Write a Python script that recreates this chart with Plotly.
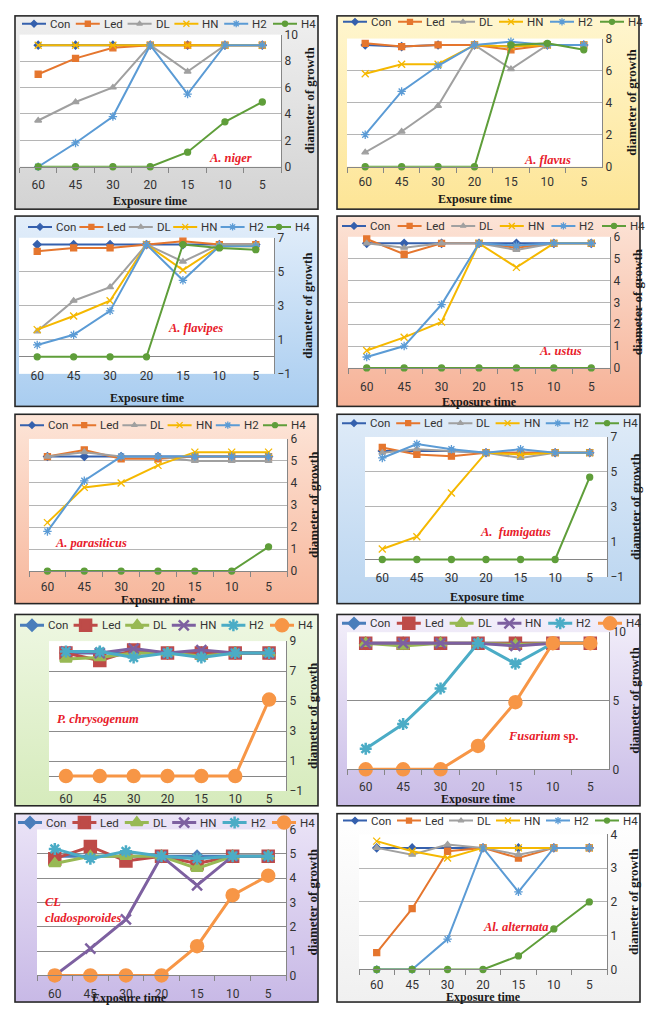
import base64
import plotly.graph_objects as go

W, H = 649, 1011

TIMES = ["60", "45", "30", "20", "15", "10", "5"]
SERIES = ["Con", "Led", "DL", "HN", "H2", "H4"]

niger = {
    "Con": [9.2, 9.2, 9.2, 9.2, 9.2, 9.2, 9.2],
    "Led": [7.0, 8.2, 9.0, 9.2, 9.2, 9.2, 9.2],
    "DL": [3.5, 4.9, 6.0, 9.2, 7.2, 9.2, 9.2],
    "HN": [9.2, 9.2, 9.2, 9.2, 9.2, 9.2, 9.2],
    "H2": [0, 1.8, 3.8, 9.2, 5.5, 9.2, 9.2],
    "H4": [0, 0, 0, 0, 1.1, 3.4, 4.9],
}
flavus = {
    "Con": [7.6, 7.5, 7.6, 7.6, 7.5, 7.6, 7.6],
    "Led": [7.7, 7.5, 7.6, 7.6, 7.3, 7.6, 7.6],
    "DL": [0.9, 2.2, 3.8, 7.6, 6.1, 7.6, 7.6],
    "HN": [5.8, 6.4, 6.4, 7.6, 7.5, 7.6, 7.6],
    "H2": [2.0, 4.7, 6.3, 7.6, 7.8, 7.6, 7.6],
    "H4": [0, 0, 0, 0, 7.6, 7.7, 7.3],
}
flavipes = {
    "Con": [6.6, 6.6, 6.6, 6.6, 6.6, 6.6, 6.6],
    "Led": [6.2, 6.4, 6.4, 6.6, 6.8, 6.6, 6.6],
    "DL": [1.5, 3.3, 4.1, 6.6, 5.6, 6.6, 6.6],
    "HN": [1.6, 2.4, 3.3, 6.6, 5.1, 6.5, 6.5],
    "H2": [0.7, 1.3, 2.7, 6.6, 4.5, 6.5, 6.5],
    "H4": [0, 0, 0, 0, 6.6, 6.4, 6.3],
}
ustus = {
    "Con": [5.7, 5.7, 5.7, 5.7, 5.7, 5.7, 5.7],
    "Led": [5.9, 5.2, 5.7, 5.7, 5.5, 5.7, 5.7],
    "DL": [5.7, 5.5, 5.7, 5.7, 5.4, 5.7, 5.7],
    "HN": [0.8, 1.4, 2.1, 5.7, 4.6, 5.7, 5.7],
    "H2": [0.5, 1.0, 2.9, 5.7, 5.6, 5.7, 5.7],
    "H4": [0, 0, 0, 0, 0, 0, 0],
}
parasiticus = {
    "Con": [5.2, 5.2, 5.2, 5.2, 5.2, 5.2, 5.2],
    "Led": [5.2, 5.5, 5.1, 5.1, 5.2, 5.2, 5.2],
    "DL": [5.2, 5.4, 5.2, 5.2, 5.0, 5.0, 5.0],
    "HN": [2.2, 3.8, 4.0, 4.8, 5.4, 5.4, 5.4],
    "H2": [1.8, 4.1, 5.2, 5.2, 5.2, 5.2, 5.2],
    "H4": [0, 0, 0, 0, 0, 0, 1.1],
}
fumigatus = {
    "Con": [6.2, 6.2, 6.2, 6.1, 6.1, 6.1, 6.1],
    "Led": [6.4, 6.0, 5.9, 6.1, 6.1, 6.1, 6.1],
    "DL": [6.1, 6.3, 6.2, 6.1, 5.8, 6.1, 6.1],
    "HN": [0.6, 1.3, 3.8, 6.1, 6.0, 6.1, 6.1],
    "H2": [5.8, 6.6, 6.3, 6.1, 6.3, 6.1, 6.1],
    "H4": [0, 0, 0, 0, 0, 0, 4.7],
}
chrysogenum = {
    "Con": [8.2, 8.2, 8.2, 8.2, 8.2, 8.2, 8.2],
    "Led": [8.2, 7.7, 8.4, 8.2, 8.2, 8.2, 8.2],
    "DL": [7.8, 7.9, 8.2, 8.2, 8.0, 8.2, 8.2],
    "HN": [8.3, 8.2, 8.5, 8.2, 8.4, 8.2, 8.2],
    "H2": [8.3, 8.3, 7.9, 8.2, 7.9, 8.2, 8.2],
    "H4": [0, 0, 0, 0, 0, 0, 5.1],
}
fusarium = {
    "Con": [9.2, 9.2, 9.2, 9.2, 9.2, 9.2, 9.2],
    "Led": [9.2, 9.2, 9.2, 9.2, 9.2, 9.2, 9.2],
    "DL": [9.2, 9.0, 9.2, 9.2, 9.1, 9.2, 9.2],
    "HN": [9.2, 9.2, 9.2, 9.2, 9.0, 9.2, 9.2],
    "H2": [1.5, 3.3, 5.9, 9.2, 7.7, 9.2, 9.2],
    "H4": [0, 0, 0, 1.7, 4.9, 9.2, 9.2],
}
cladosporoides = {
    "Con": [4.9, 4.9, 4.9, 4.9, 4.9, 4.9, 4.9],
    "Led": [4.8, 5.3, 4.7, 4.9, 4.6, 4.9, 4.9],
    "DL": [4.6, 4.9, 4.9, 4.9, 4.4, 4.9, 4.9],
    "HN": [0, 1.1, 2.3, 4.9, 3.7, 4.9, 4.9],
    "H2": [5.2, 4.8, 5.1, 4.9, 4.8, 4.9, 4.9],
    "H4": [0, 0, 0, 0, 1.2, 3.3, 4.1],
}
alternata = {
    "Con": [3.6, 3.6, 3.6, 3.6, 3.6, 3.6, 3.6],
    "Led": [0.5, 1.8, 3.5, 3.6, 3.3, 3.6, 3.6],
    "DL": [3.6, 3.4, 3.7, 3.6, 3.4, 3.6, 3.6],
    "HN": [3.8, 3.5, 3.3, 3.6, 3.6, 3.6, 3.6],
    "H2": [0, 0, 0.9, 3.6, 2.3, 3.6, 3.6],
    "H4": [0, 0, 0, 0, 0.4, 1.2, 2.0],
}

# ---------- styles ----------
STYLE_A = dict(
    colors=["#3560ad", "#e5762e", "#a0a0a0", "#f5b800", "#5b9bd5", "#5f9e3a"],
    symbols=["diamond", "square", "triangle-up", "x-thin-open", "asterisk-open", "circle"],
    sizes=[6, 6, 6, 7, 7, 6],
    lw=2, mlw=1.3, grid="#b5b5b5",
)
STYLE_B = dict(
    colors=["#4a7ebb", "#be4b48", "#98b954", "#7d60a0", "#4bacc6", "#f79646"],
    symbols=["diamond", "square", "triangle-up", "x-thin-open", "asterisk-open", "circle"],
    sizes=[8, 11, 10, 10, 10, 12],
    lw=3, mlw=2.5, grid="#8c8c8c",
)

PANELS = [
    dict(title="<i>A. niger</i>", data=niger, st=STYLE_A, box=(15, 9, 318, 205),
         plot=(19.5, 28, 281, 162), yr=(0, 10), dtick=2, tick0=0, zero=False,
         bg=("#efefef", "#d3d3d3"), leg=(22, 313, 17), lab=(230, 153), xd=20,
         xt=(150, 197), yt=310),
    dict(title="<i>A. flavus</i>", data=flavus, st=STYLE_A, box=(337, 9, 639, 205),
         plot=(347, 32, 602, 162), yr=(0, 8), dtick=2, tick0=0, zero=False,
         bg=("#fff6cf", "#fde596"), leg=(343, 640, 15), lab=(547, 155), xd=17,
         xt=(475, 195), yt=632),
    dict(title="<i>A. flavipes</i>", data=flavipes, st=STYLE_A, box=(15, 212, 318, 405),
         plot=(19, 234, 274, 372), yr=(-1, 7), dtick=2, tick0=-1, zero=True,
         bg=("#e3eefa", "#a9cdf0"), leg=(28, 307, 223), lab=(195, 326), xd=1,
         xt=(147, 396), yt=308),
    dict(title="<i>A. ustus</i>", data=ustus, st=STYLE_A, box=(337, 212, 640, 405),
         plot=(348, 233, 610, 366), yr=(0, 6), dtick=1, tick0=0, zero=False,
         bg=("#fce3d6", "#f6b196"), leg=(342, 642, 222), lab=(560, 349), xd=21,
         xt=(479, 401), yt=637),
    dict(title="<i>A. parasiticus</i>", data=parasiticus, st=STYLE_A, box=(15, 413, 318, 605),
         plot=(29, 438, 287, 572), yr=(0, 6), dtick=1, tick0=0, zero=False,
         bg=("#fde5d8", "#f7b79c"), leg=(20, 303, 424), lab=(91, 544), xd=18,
         xt=(158, 601), yt=313),
    dict(title="<i>A.  fumigatus</i>", data=fumigatus, st=STYLE_A, box=(337, 413, 640, 605),
         plot=(365, 436, 607, 578), yr=(-1, 7), dtick=2, tick0=-1, zero=True,
         bg=("#dfebf8", "#bad5f0"), leg=(342, 635, 422), lab=(515, 532), xd=0,
         xt=(487, 598), yt=636),
    dict(title="<i>P. chrysogenum</i>", data=chrysogenum, st=STYLE_B, box=(15, 616, 318, 810),
         plot=(49, 643, 286, 795), yr=(-1, 9), dtick=2, tick0=-1, zero=True,
         bg=("#eef7e2", "#d6ebbc"), leg=(20, 310, 627), lab=(98, 722), xd=7,
         xt=None, yt=312),
    dict(title="<i>Fusarium</i> sp.", data=fusarium, st=STYLE_B, box=(337, 616, 640, 810),
         plot=(347, 634, 609, 773), yr=(0, 10), dtick=5, tick0=0, zero=False,
         bg=("#f3effa", "#c9bce7"), leg=(342, 638, 625), lab=(543, 739), xd=19,
         xt=(478, 803), yt=635),
    dict(title="<i>CL<br>cladosporoides</i>", data=cladosporoides, st=STYLE_B, box=(15, 818, 318, 1009),
         plot=(37, 834, 286, 982), yr=(0, 6), dtick=1, tick0=0, zero=False,
         bg=("#ebe4f7", "#c8b9e6"), leg=(18, 312, 827), lab=(43, 916), xd=20,
         xt=(129, 1005), yt=312, lableft=True),
    dict(title="<i>Al. alternata</i>", data=alternata, st=STYLE_A, box=(337, 818, 640, 1009),
         plot=(359, 839, 607, 976), yr=(0, 4), dtick=1, tick0=0, zero=False,
         bg=("#ffffff", "#f0f0f0"), leg=(343, 635, 825), lab=(516, 933), xd=17,
         xt=(483, 1004), yt=634),
]

TEXT_W = {"Con": 19, "Led": 17, "DL": 12, "HN": 15, "H2": 14, "H4": 14}
LEG_LINE = 24

RED = "#e8202a"
SERIF = "Liberation Serif"
SANS = "Roboto"


def fx(x):
    return x / W


def fy(y):
    return 1 - y / H


fig = go.Figure()
lay = {}
ann = []

# background svg (gradient panel boxes + white plot areas)
svg = ['<svg xmlns="http://www.w3.org/2000/svg" width="%d" height="%d" viewBox="0 0 %d %d" preserveAspectRatio="none"><defs>' % (W, H, W, H)]
for i, p in enumerate(PANELS):
    c0, c1 = p["bg"]
    svg.append('<linearGradient id="g%d" x1="0" y1="0" x2="0" y2="1"><stop offset="0" stop-color="%s"/><stop offset="1" stop-color="%s"/></linearGradient>' % (i, c0, c1))
svg.append('</defs><rect x="0" y="0" width="%d" height="%d" fill="#ffffff"/>' % (W, H))
for i, p in enumerate(PANELS):
    bx0, by0, bx1, by1 = p["box"]
    px0, py0, px1, py1 = p["plot"]
    svg.append('<rect x="%g" y="%g" width="%g" height="%g" fill="url(#g%d)" stroke="#262626" stroke-width="1.6"/>' % (bx0, by0, bx1 - bx0, by1 - by0, i))
    svg.append('<rect x="%g" y="%g" width="%g" height="%g" fill="#ffffff"/>' % (px0, py0, px1 - px0, py1 - py0))
svg.append('</svg>')
svg_uri = "data:image/svg+xml;base64," + base64.b64encode("".join(svg).encode()).decode()

for k, p in enumerate(PANELS, start=1):
    st = p["st"]
    px0, py0, px1, py1 = p["plot"]
    xs = "" if k == 1 else str(k)
    lk = str(k + 10)

    for i, name in enumerate(SERIES):
        c = st["colors"][i]
        fig.add_trace(go.Scatter(
            x=TIMES, y=p["data"][name], name=name, mode="lines+markers",
            xaxis="x" + xs, yaxis="y" + xs, cliponaxis=False, showlegend=False,
            line=dict(color=c, width=st["lw"]),
            marker=dict(symbol=st["symbols"][i], size=st["sizes"][i], color=c,
                        line=dict(color=c, width=st["mlw"])),
        ))

    ticklen = 0 if p["zero"] else 5
    lay["xaxis" + xs] = dict(
        domain=[fx(px0), fx(px1)], anchor="y" + xs, type="category",
        range=[-0.5, 6.5], showgrid=False, zeroline=False,
        showline=not p["zero"], linecolor="#868686", linewidth=1,
        ticks="" if p["zero"] else "outside", tickson="boundaries",
        ticklen=ticklen, tickcolor="#868686",
        tickfont=dict(family=SANS, size=12, color="#333333"),
        ticklabelstandoff=p["xd"] - (13 if not p["zero"] else 8),
        fixedrange=True,
    )
    lay["yaxis" + xs] = dict(
        domain=[fy(py1), fy(py0)], anchor="x" + xs, side="right",
        range=list(p["yr"]), dtick=p["dtick"], tick0=p["tick0"],
        showgrid=True, gridcolor=st["grid"], gridwidth=1,
        zeroline=p["zero"], zerolinecolor="#868686", zerolinewidth=1,
        showline=True, linecolor="#868686", linewidth=1, ticks="",
        tickfont=dict(family=SANS, size=12, color="#333333"),
        fixedrange=True,
    )

    # legend strip
    bx0, by0, bx1, by1 = p["box"]
    ls, le, ly = p["leg"]
    natural = sum(LEG_LINE + 2 + TEXT_W[n] for n in SERIES)
    gap = (le - ls - natural) / (len(SERIES) - 1)
    lay["xaxis" + lk] = dict(domain=[fx(bx0), fx(bx1)], range=[bx0, bx1],
                             anchor="y" + lk, visible=False, fixedrange=True)
    lay["yaxis" + lk] = dict(domain=[fy(ly + 6), fy(ly - 6)], range=[-1, 1],
                             anchor="x" + lk, visible=False, fixedrange=True)
    cx = ls
    for i, name in enumerate(SERIES):
        c = st["colors"][i]
        msize = st["sizes"][i] - (1 if st is STYLE_A else 0)
        fig.add_trace(go.Scatter(
            x=[cx, cx + LEG_LINE / 2, cx + LEG_LINE], y=[0, 0, 0],
            xaxis="x" + lk, yaxis="y" + lk, mode="lines+markers",
            cliponaxis=False, showlegend=False, hoverinfo="skip",
            line=dict(color=c, width=st["lw"]),
            marker=dict(symbol=st["symbols"][i], size=msize, color=c,
                        opacity=[0, 1, 0], line=dict(color=c, width=st["mlw"])),
        ))
        ann.append(dict(x=fx(cx + LEG_LINE + 2), y=fy(ly), xref="paper", yref="paper",
                        text=name, showarrow=False, xanchor="left", yanchor="middle",
                        font=dict(family=SANS, size=11.5, color="#333333")))
        cx += LEG_LINE + 2 + TEXT_W[name] + gap

    # species label
    lx, lyy = p["lab"]
    ann.append(dict(x=fx(lx), y=fy(lyy), xref="paper", yref="paper",
                    text="<b>" + p["title"] + "</b>", showarrow=False,
                    xanchor="left" if p.get("lableft") else "center", yanchor="middle",
                    align="left",
                    font=dict(family=SERIF, size=12.5, color=RED)))
    # x title
    if p["xt"] is not None:
        tx, ty = p["xt"]
        ann.append(dict(x=fx(tx), y=fy(ty), xref="paper", yref="paper",
                        text="<b>Exposure time</b>", showarrow=False,
                        xanchor="center", yanchor="middle",
                        font=dict(family=SERIF, size=12, color="#1a1a1a")))
    # y title
    ann.append(dict(x=fx(p["yt"]), y=fy((py0 + py1) / 2), xref="paper", yref="paper",
                    text="<b>diameter of growth</b>", showarrow=False, textangle=-90,
                    xanchor="center", yanchor="middle",
                    font=dict(family=SERIF, size=13, color="#1a1a1a")))

fig.update_layout(
    width=W, height=H, margin=dict(l=0, r=0, t=0, b=0),
    paper_bgcolor="#ffffff", plot_bgcolor="rgba(0,0,0,0)",
    showlegend=False, annotations=ann,
    images=[dict(source=svg_uri, xref="paper", yref="paper", x=0, y=1,
                 sizex=1, sizey=1, xanchor="left", yanchor="top",
                 sizing="stretch", layer="below")],
    **lay,
)

fig.write_html(
    "out.html",
    config={"displayModeBar": False},
    post_script="document.body.style.margin='0px';document.body.style.overflow='hidden';",
)
